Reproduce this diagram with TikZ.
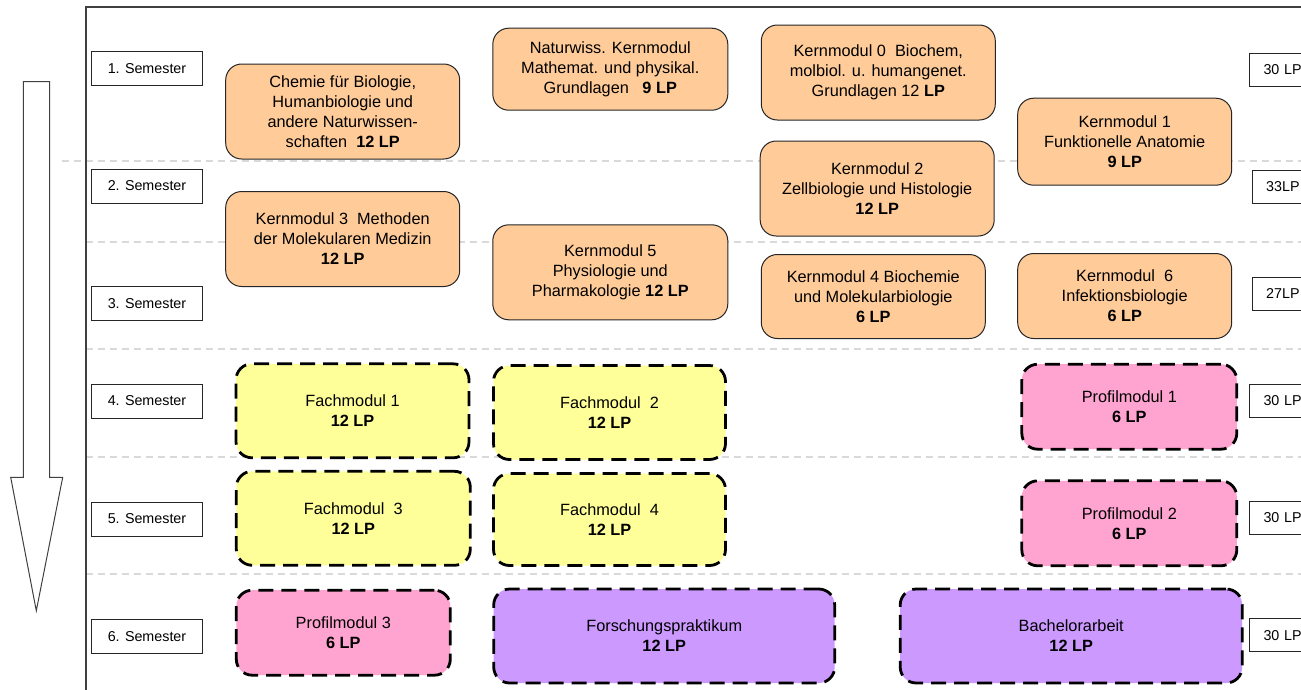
\documentclass[tikz,border=0pt]{standalone}
\usepackage{fontspec}
\setmainfont{Liberation Sans}
\definecolor{orangefill}{HTML}{FFCC99}
\definecolor{yellowfill}{HTML}{FFFF99}
\definecolor{pinkfill}{HTML}{FFA3D1}
\definecolor{purplefill}{HTML}{CC99FF}
\definecolor{framegray}{HTML}{404040}
\definecolor{sepgray}{HTML}{D9D9D9}
\newcommand{\boxfont}{\fontsize{16.3}{20}\selectfont}
\newcommand{\semfont}{\fontsize{14.3}{17}\selectfont}
\begin{document}
\begin{tikzpicture}[x=1pt,y=-1pt,
  modbox/.style={rounded corners=16pt, align=center, font=\boxfont, inner sep=0pt},
  orangebox/.style={modbox, fill=orangefill, draw=black!85, line width=1pt},
  dashbox/.style={modbox, draw=black, line width=2.8pt, dash pattern=on 15pt off 8pt},
  yellowbox/.style={dashbox, fill=yellowfill},
  pinkbox/.style={dashbox, fill=pinkfill},
  purplebox/.style={dashbox, fill=purplefill},
  sembox/.style={draw=black!85, line width=1pt, minimum width=111pt, minimum height=34pt, font=\semfont, inner sep=0pt},
  lpbox/.style={draw=black!85, line width=1pt, minimum height=33pt, text width=60pt, inner xsep=14pt, inner ysep=0pt, align=left, font=\semfont, anchor=west},
  sepline/.style={draw=sepgray, line width=1.3pt, dash pattern=on 7pt off 5pt},
  frameline/.style={draw=framegray, line width=1.2pt}
]
\clip (0,0) rectangle (1301,689);
\fill[white] (0,0) rectangle (1301,689);

% separators
\draw[sepline] (62,161) -- (1301,161);
\draw[sepline] (86,242) -- (1301,242);
\draw[sepline] (86,349) -- (1301,349);
\draw[sepline] (86,457) -- (1301,457);
\draw[sepline] (86,574) -- (1301,574);

% frame
\draw[frameline] (86,700) -- (86,7) -- (1310,7);

% big arrow
\draw[draw=framegray, line width=1pt, fill=white] (23.3,81.7) -- (49.7,81.7) -- (49.7,477.3) -- (62.7,477.3) -- (36.3,610.7) -- (10.7,477.3) -- (23.3,477.3) -- cycle;

% semester boxes
\node[sembox] (s1) at (147,68.5) {1. Semester};
\node[sembox] (s2) at (147,186) {2. Semester};
\node[sembox] (s3) at (147,303.7) {3. Semester};
\node[sembox] (s4) at (147,401) {4. Semester};
\node[sembox] (s5) at (147,519) {5. Semester};
\node[sembox] (s6) at (147,636.3) {6. Semester};

% LP boxes
\node[lpbox] (lp1) at (1249,69.7) {30 LP};
\node[lpbox] (lp2) at (1251.7,187) {33LP};
\node[lpbox] (lp3) at (1251.7,293.8) {27LP};
\node[lpbox] (lp4) at (1249,401) {30 LP};
\node[lpbox] (lp5) at (1249,517.8) {30 LP};
\node[lpbox] (lp6) at (1249,635.2) {30 LP};

% orange core modules
\node[orangebox, minimum width=234pt, minimum height=95pt] (chem) at (342.7,111.5)
  {Chemie für Biologie,\\Humanbiologie und\\andere Naturwissen-\\schaften\ \ \textbf{12 LP}};
\node[orangebox, minimum width=234pt, minimum height=95pt] (km3) at (342.7,239)
  {Kernmodul 3\ \ Methoden\\der Molekularen Medizin\\\textbf{12 LP}};
\node[orangebox, minimum width=235pt, minimum height=82pt] (nat) at (610.3,69.2)
  {Naturwiss. Kernmodul\\Mathemat. und physikal.\\Grundlagen\ \ \ \textbf{9 LP}};
\node[orangebox, minimum width=235pt, minimum height=95pt] (km5) at (610.3,272.3)
  {Kernmodul 5\\Physiologie und\\Pharmakologie \textbf{12 LP}};
\node[orangebox, minimum width=234pt, minimum height=95pt] (km0) at (878.3,72.5)
  {Kernmodul 0\ \ Biochem,\\molbiol. u. humangenet.\\Grundlagen 12 \textbf{LP}};
\node[orangebox, minimum width=234pt, minimum height=95pt] (km2) at (877.2,188.5)
  {Kernmodul 2\\Zellbiologie und Histologie\\\textbf{12 LP}};
\node[orangebox, minimum width=224pt, minimum height=84pt] (km4) at (873.3,296.5)
  {Kernmodul 4 Biochemie\\und Molekularbiologie\\\textbf{6 LP}};
\node[orangebox, minimum width=214pt, minimum height=87pt] (km1) at (1124.7,141.7)
  {Kernmodul 1\\Funktionelle Anatomie\\\textbf{9 LP}};
\node[orangebox, minimum width=214pt, minimum height=85pt] (km6) at (1124.7,296)
  {Kernmodul\ \ 6\\Infektionsbiologie\\\textbf{6 LP}};

% dashed modules
\node[yellowbox, minimum width=233pt, minimum height=94pt] (fm1) at (352.5,410.8)
  {Fachmodul 1\\\textbf{12 LP}};
\node[yellowbox, minimum width=234pt, minimum height=94pt] (fm3) at (353.3,518.3)
  {Fachmodul\ \ 3\\\textbf{12 LP}};
\node[pinkbox, minimum width=214pt, minimum height=85pt] (pm3) at (343.3,632.7)
  {Profilmodul 3\\\textbf{6 LP}};
\node[yellowbox, minimum width=232pt, minimum height=94pt] (fm2) at (609.5,412.5)
  {Fachmodul\ \ 2\\\textbf{12 LP}};
\node[yellowbox, minimum width=232pt, minimum height=92pt] (fm4) at (609.5,519.5)
  {Fachmodul\ \ 4\\\textbf{12 LP}};
\node[purplebox, minimum width=341pt, minimum height=94pt] (fp) at (664.2,636)
  {Forschungspraktikum\\\textbf{12 LP}};
\node[purplebox, minimum width=342pt, minimum height=94pt] (ba) at (1071.2,636)
  {Bachelorarbeit\\\textbf{12 LP}};
\node[pinkbox, minimum width=215pt, minimum height=85pt] (pm1) at (1129.3,406.7)
  {Profilmodul 1\\\textbf{6 LP}};
\node[pinkbox, minimum width=215pt, minimum height=85pt] (pm2) at (1129.3,523.3)
  {Profilmodul 2\\\textbf{6 LP}};
\end{tikzpicture}
\end{document}
